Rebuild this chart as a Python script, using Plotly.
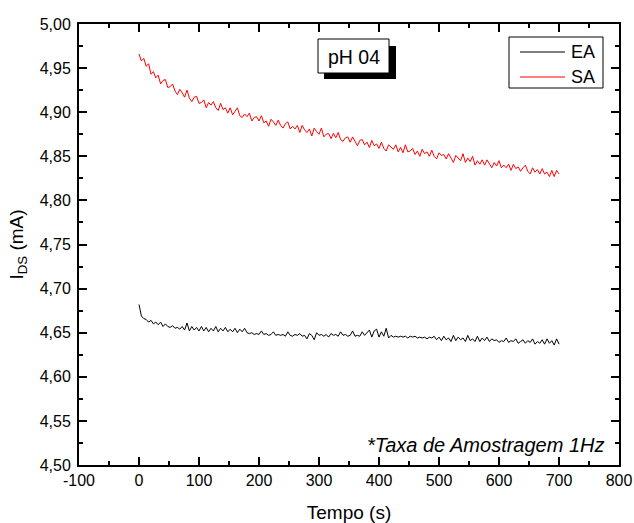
import plotly.graph_objects as go

# Time samples (s), one value every 4 s
tempo = list(range(0, 701, 4))

sa = [4.966, 4.958, 4.961, 4.952, 4.955, 4.943, 4.946, 4.939, 4.942, 4.932,
      4.936, 4.937, 4.928, 4.929, 4.932, 4.924, 4.920, 4.926, 4.922, 4.917,
      4.925, 4.916, 4.912, 4.917, 4.918, 4.910, 4.911, 4.914, 4.905, 4.911,
      4.908, 4.912, 4.905, 4.902, 4.910, 4.903, 4.905, 4.899, 4.905, 4.897,
      4.901, 4.905, 4.896, 4.894, 4.898, 4.895, 4.899, 4.890, 4.894, 4.895,
      4.890, 4.896, 4.888, 4.890, 4.884, 4.892, 4.889, 4.885, 4.891, 4.885,
      4.882, 4.887, 4.889, 4.881, 4.884, 4.881, 4.885, 4.877, 4.885, 4.880,
      4.877, 4.881, 4.873, 4.882, 4.878, 4.875, 4.882, 4.872, 4.875, 4.876,
      4.870, 4.876, 4.871, 4.877, 4.869, 4.867, 4.871, 4.872, 4.866, 4.872,
      4.867, 4.862, 4.868, 4.869, 4.863, 4.866, 4.860, 4.868, 4.862, 4.864,
      4.859, 4.866, 4.859, 4.856, 4.863, 4.861, 4.858, 4.863, 4.855, 4.860,
      4.854, 4.863, 4.855, 4.856, 4.859, 4.852, 4.856, 4.850, 4.858, 4.853,
      4.855, 4.850, 4.857, 4.850, 4.847, 4.854, 4.851, 4.852, 4.847, 4.853,
      4.848, 4.843, 4.851, 4.848, 4.845, 4.853, 4.843, 4.848, 4.844, 4.850,
      4.840, 4.845, 4.841, 4.846, 4.840, 4.846, 4.842, 4.837, 4.843, 4.839,
      4.845, 4.837, 4.840, 4.837, 4.841, 4.834, 4.841, 4.836, 4.838, 4.833,
      4.837, 4.840, 4.833, 4.830, 4.837, 4.832, 4.835, 4.830, 4.836, 4.830,
      4.832, 4.827, 4.834, 4.827, 4.834, 4.830]

ea = [4.682, 4.669, 4.666, 4.665, 4.662, 4.664, 4.660, 4.662, 4.659, 4.662,
      4.657, 4.660, 4.657, 4.656, 4.658, 4.655, 4.656, 4.654, 4.657, 4.653,
      4.661, 4.652, 4.657, 4.653, 4.656, 4.652, 4.657, 4.652, 4.656, 4.651,
      4.655, 4.652, 4.657, 4.651, 4.655, 4.652, 4.656, 4.651, 4.654, 4.651,
      4.655, 4.650, 4.654, 4.651, 4.655, 4.650, 4.649, 4.650, 4.648, 4.649,
      4.648, 4.652, 4.648, 4.649, 4.647, 4.648, 4.651, 4.647, 4.648, 4.647,
      4.648, 4.646, 4.651, 4.647, 4.646, 4.648, 4.647, 4.649, 4.646, 4.647,
      4.643, 4.649, 4.647, 4.642, 4.650, 4.647, 4.648, 4.646, 4.648, 4.645,
      4.649, 4.647, 4.648, 4.646, 4.651, 4.647, 4.648, 4.646, 4.647, 4.652,
      4.646, 4.647, 4.646, 4.651, 4.647, 4.650, 4.653, 4.645, 4.652, 4.654,
      4.645, 4.651, 4.646, 4.655, 4.644, 4.647, 4.645, 4.646, 4.645, 4.646,
      4.645, 4.646, 4.644, 4.646, 4.645, 4.646, 4.644, 4.645, 4.644, 4.645,
      4.643, 4.645, 4.644, 4.646, 4.642, 4.645, 4.641, 4.646, 4.642, 4.644,
      4.640, 4.647, 4.641, 4.645, 4.642, 4.644, 4.640, 4.647, 4.641, 4.643,
      4.640, 4.646, 4.640, 4.644, 4.641, 4.645, 4.640, 4.643, 4.641, 4.642,
      4.639, 4.641, 4.640, 4.644, 4.639, 4.641, 4.640, 4.643, 4.638, 4.640,
      4.642, 4.638, 4.641, 4.639, 4.643, 4.637, 4.640, 4.638, 4.642, 4.637,
      4.643, 4.638, 4.641, 4.636, 4.643, 4.637]

series_names = ["EA", "SA"]
series_colors = ["black", "red"]

x_ticks = [-100, 0, 100, 200, 300, 400, 500, 600, 700, 800]
x_ticktext = ["-100", "0", "100", "200", "300", "400", "500", "600", "700", "800"]
y_ticks = [4.50, 4.55, 4.60, 4.65, 4.70, 4.75, 4.80, 4.85, 4.90, 4.95, 5.00]
y_ticktext = ["4,50", "4,55", "4,60", "4,65", "4,70", "4,75", "4,80", "4,85",
              "4,90", "4,95", "5,00"]

FONT = "Arial, Liberation Sans, sans-serif"

# plot-area pixel geometry (for placing decorations)
L, R, T, B = 79, 619, 24, 465
def px(X):
    return (X - L) / (R - L)
def py(Y):
    return (B - Y) / (B - T)

fig = go.Figure()
for name, vals, col in zip(series_names, [ea, sa], series_colors):
    fig.add_trace(go.Scatter(x=tempo, y=vals, mode="lines", name=name,
                             line=dict(color=col, width=1), showlegend=False))

axis_common = dict(showline=True, linecolor="black", linewidth=2,
                   mirror="allticks", ticks="inside", ticklen=8, tickwidth=1.5,
                   tickcolor="black", showgrid=False, zeroline=False,
                   automargin=False,
                   tickfont=dict(family=FONT, size=16, color="black"))

fig.update_layout(
    width=634, height=523,
    margin=dict(l=L, r=634 - R, t=T, b=523 - B),
    plot_bgcolor="white", paper_bgcolor="white",
    font=dict(family=FONT, color="black"),
    xaxis=dict(range=[-100, 800], tickvals=x_ticks, ticktext=x_ticktext,
               minor=dict(ticks="inside", ticklen=4, dtick=50, tick0=0,
                          tickcolor="black", tickwidth=1.5),
               title=dict(text="Tempo (s)", font=dict(family=FONT, size=19),
                          standoff=18),
               **axis_common),
    yaxis=dict(range=[4.5, 5.0], tickvals=y_ticks, ticktext=y_ticktext,
               ticklabelstandoff=3,
               minor=dict(ticks="inside", ticklen=4, dtick=0.025, tick0=4.5,
                          tickcolor="black", tickwidth=1.5),
               title=dict(text="I<sub>DS</sub> (mA)", font=dict(family=FONT, size=19),
                          standoff=11),
               **axis_common),
    showlegend=False,
)

# legend box (drawn by hand to match the original frame)
fig.add_shape(type="rect", xref="paper", yref="paper",
              x0=px(509), x1=px(603), y0=py(88), y1=py(37),
              fillcolor="white", line=dict(color="black", width=1))
for name, col, yy in zip(series_names, series_colors, [52, 77]):
    fig.add_shape(type="line", xref="paper", yref="paper",
                  x0=px(520), x1=px(565), y0=py(yy), y1=py(yy),
                  line=dict(color=col, width=1))
    fig.add_annotation(xref="paper", yref="paper", x=px(569), y=py(yy),
                       text=name, showarrow=False, xanchor="left",
                       yanchor="middle",
                       font=dict(family=FONT, size=18, color="black"))

# pH label with drop shadow
fig.add_shape(type="rect", xref="paper", yref="paper",
              x0=px(324), x1=px(396), y0=py(79), y1=py(46),
              fillcolor="black", line=dict(width=0))
fig.add_shape(type="rect", xref="paper", yref="paper",
              x0=px(318), x1=px(389), y0=py(73), y1=py(39),
              fillcolor="white", line=dict(color="black", width=1))
fig.add_annotation(xref="paper", yref="paper",
                   x=px(353.5), y=py(56.5),
                   text="pH 04", showarrow=False,
                   font=dict(family=FONT, size=19.5, color="black"),
                   xanchor="center", yanchor="middle")

fig.add_annotation(xref="paper", yref="paper",
                   x=px(607), y=py(445),
                   text="<i>*Taxa de Amostragem 1Hz</i>", showarrow=False,
                   font=dict(family=FONT, size=20, color="black"),
                   xanchor="right", yanchor="middle")

fig.write_html("out.html")
